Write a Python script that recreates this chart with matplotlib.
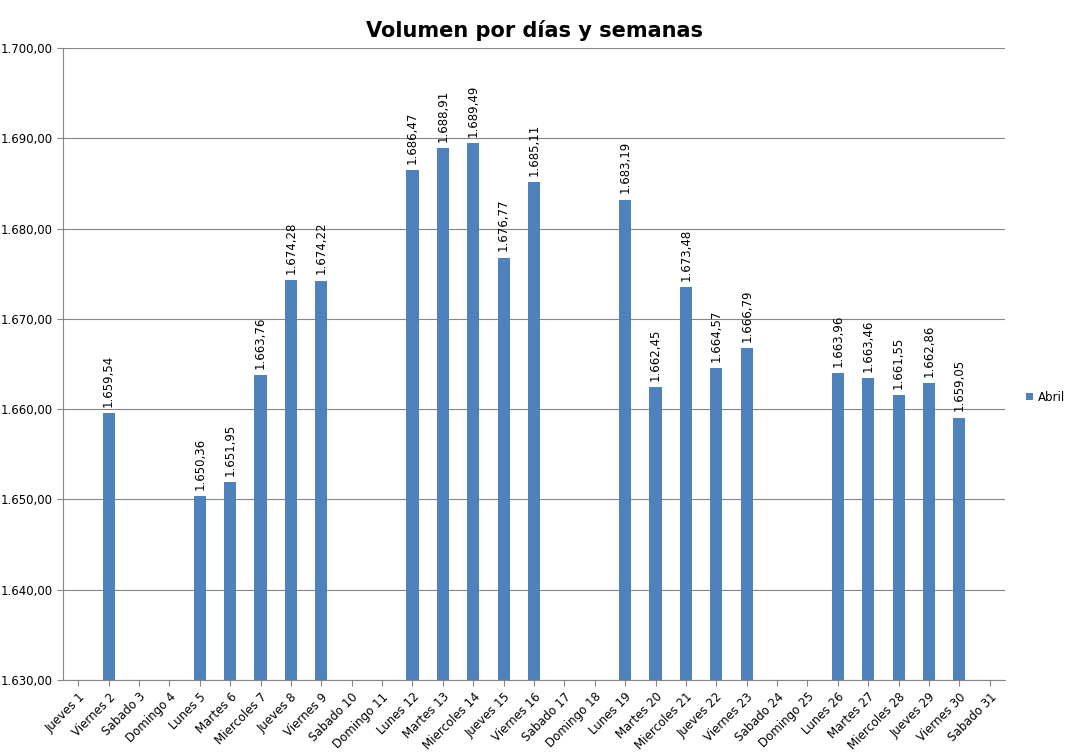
import matplotlib
matplotlib.use("Agg")
import matplotlib.pyplot as plt
import numpy as np

categories = ["Jueves 1","Viernes 2","Sabado 3","Domingo 4","Lunes 5","Martes 6","Miercoles 7","Jueves 8",
              "Viernes 9","Sabado 10","Domingo 11","Lunes 12","Martes 13","Miercoles 14","Jueves 15",
              "Viernes 16","Sabado 17","Domingo 18","Lunes 19","Martes 20","Miercoles 21","Jueves 22",
              "Viernes 23","Sabado 24","Domingo 25","Lunes 26","Martes 27","Miercoles 28","Jueves 29",
              "Viernes 30","Sabado 31"]
abril = [None,1659.54,None,None,1650.36,1651.95,1663.76,1674.28,1674.22,None,None,1686.47,1688.91,
         1689.49,1676.77,1685.11,None,None,1683.19,1662.45,1673.48,1664.57,1666.79,None,None,
         1663.96,1663.46,1661.55,1662.86,1659.05,None]
yticks = [1630,1640,1650,1660,1670,1680,1690,1700]

def fmt(v):
    s = f"{v:,.2f}"
    return s.replace(",", "X").replace(".", ",").replace("X", ".")

fig = plt.figure(figsize=(10.68, 7.52), dpi=100)
ax = fig.add_axes([63/1068, 1-680/752, (1005-63)/1068, (680-48)/752])
x = np.arange(len(categories))
vals = [np.nan if v is None else v for v in abril]
ax.bar(x, [v - 1630 if not np.isnan(v) else np.nan for v in vals], bottom=1630,
       width=0.4, color="#4F81BD", label="Abril", zorder=3)
for xi, v in zip(x, vals):
    if not np.isnan(v):
        ax.text(xi, v + 0.7, fmt(v), rotation=90, ha="center", va="bottom", fontsize=8.5)
ax.set_xlim(-0.5, len(categories) - 0.5)
ax.set_ylim(1630, 1700)
ax.set_yticks(yticks)
ax.set_yticklabels([fmt(t) for t in yticks], fontsize=8.5)
ax.set_xticks(x)
ax.set_xticklabels(categories, rotation=45, ha="right", rotation_mode="anchor", fontsize=8.5)
ax.grid(axis="y", color="#868686", linewidth=0.8, zorder=0)
for s in ["top", "right"]:
    ax.spines[s].set_visible(False)
ax.spines["left"].set_color("#868686")
ax.spines["bottom"].set_color("#868686")
ax.tick_params(axis="x", length=4, color="#868686")
ax.tick_params(axis="y", length=4, color="#868686")
fig.legend(loc="center left", bbox_to_anchor=(1015/1068, 1-397/752), frameon=False,
           fontsize=8.5, handlelength=0.6, handleheight=0.6, handletextpad=0.4)
fig.suptitle("Volumen por días y semanas", y=1-20/752, fontsize=15, fontweight="bold")
fig.savefig("out.png", dpi=100)
